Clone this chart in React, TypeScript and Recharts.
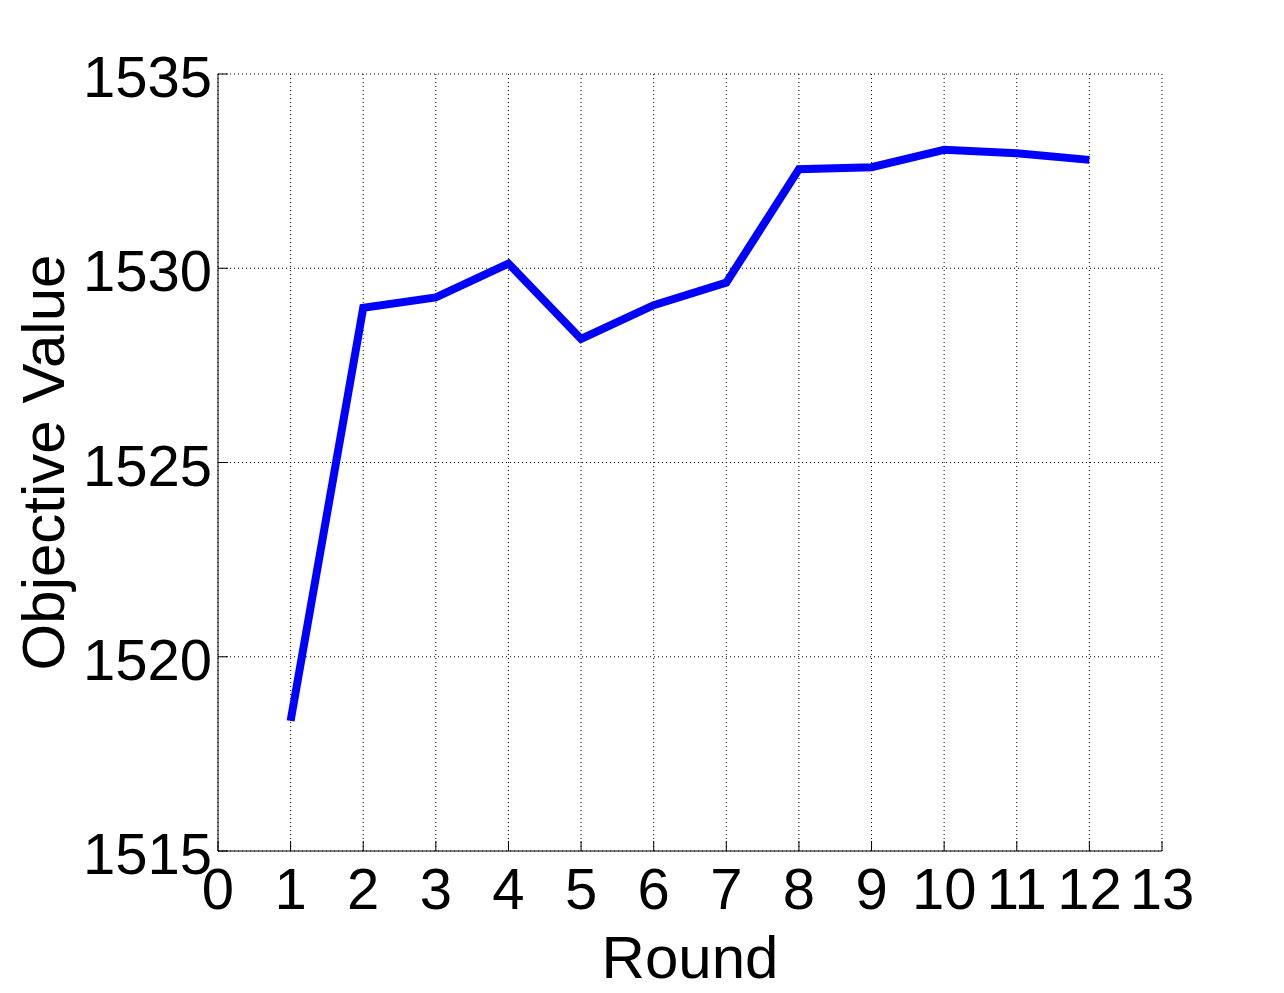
import React from 'react';
import { LineChart, Line, XAxis, YAxis, CartesianGrid } from 'recharts';

const rounds = [1, 2, 3, 4, 5, 6, 7, 8, 9, 10, 11, 12];
const objectiveValues = [1518.35, 1528.98, 1529.25, 1530.12, 1528.18, 1529.05, 1529.63, 1532.55, 1532.6, 1533.05, 1532.96, 1532.79];
const xTicks = [0, 1, 2, 3, 4, 5, 6, 7, 8, 9, 10, 11, 12, 13];
const yTicks = [1515, 1520, 1525, 1530, 1535];

const data = rounds.map((r, i) => ({ round: r, value: objectiveValues[i] }));

const FONT = '"Liberation Sans", Arial, Helvetica, sans-serif';
const FS = 58;
const LABEL_FS = 60;
const X_MARGIN = 15;
const Y_MARGIN = 6;
const TICK_LEN = 10;

const XTick = (props: any) => {
  const { x, y, payload } = props;
  const axisY = y - X_MARGIN;
  return (
    <g>
      <line x1={x} y1={axisY} x2={x} y2={axisY - TICK_LEN} stroke="#000" strokeWidth={1} />
      <text x={x} y={axisY} dy={58} textAnchor="middle" fontFamily={FONT} fontSize={FS} fill="#000">
        {payload.value}
      </text>
    </g>
  );
};

const YTick = (props: any) => {
  const { x, y, payload } = props;
  const axisX = x + Y_MARGIN;
  return (
    <g>
      <line x1={axisX} y1={y} x2={axisX + TICK_LEN} y2={y} stroke="#000" strokeWidth={1} />
      <text x={x} y={y} dy={23} textAnchor="end" fontFamily={FONT} fontSize={FS} fill="#000">
        {payload.value}
      </text>
    </g>
  );
};

const XLabel = (props: any) => {
  const { viewBox } = props;
  return (
    <text x={viewBox.x + viewBox.width / 2} y={viewBox.y + 127} textAnchor="middle" fontFamily={FONT} fontSize={LABEL_FS} fill="#000">
      Round
    </text>
  );
};

const YLabel = (props: any) => {
  const { viewBox } = props;
  const cx = viewBox.x + 24;
  const cy = viewBox.y + viewBox.height / 2;
  return (
    <text x={cx} y={cy} dy={22} transform={`rotate(-90, ${cx}, ${cy})`} textAnchor="middle" fontFamily={FONT} fontSize={LABEL_FS} fill="#000">
      Objective Value
    </text>
  );
};

export default function App() {
  return (
    <div style={{ position: 'absolute', left: 0, top: 0, width: 1284, height: 993, background: '#fff' }}>
      <LineChart width={1284} height={993} data={data} margin={{ top: 74, right: 122, bottom: 0, left: 18 }}>
        <CartesianGrid stroke="#000" strokeDasharray="1 3" strokeWidth={1} horizontal vertical />
        <XAxis
          dataKey="round"
          type="number"
          domain={[0, 13]}
          ticks={xTicks}
          interval={0}
          height={142}
          tickSize={0}
          tickMargin={X_MARGIN}
          tickLine={false}
          tick={<XTick />}
          axisLine={{ stroke: '#000', strokeWidth: 1 }}
          label={<XLabel />}
        />
        <XAxis
          xAxisId="top"
          orientation="top"
          type="number"
          domain={[0, 13]}
          ticks={xTicks}
          interval={0}
          height={0}
          mirror
          tick={false}
          tickSize={TICK_LEN}
          tickLine={{ stroke: '#000' }}
          axisLine={{ stroke: '#000', strokeWidth: 1 }}
        />
        <YAxis
          type="number"
          domain={[1515, 1535]}
          ticks={yTicks}
          interval={0}
          width={200}
          tickSize={0}
          tickMargin={Y_MARGIN}
          tickLine={false}
          tick={<YTick />}
          axisLine={{ stroke: '#000', strokeWidth: 1 }}
          label={<YLabel />}
        />
        <YAxis
          yAxisId="right"
          orientation="right"
          type="number"
          domain={[1515, 1535]}
          ticks={yTicks}
          interval={0}
          width={0}
          mirror
          tick={false}
          tickSize={TICK_LEN}
          tickLine={{ stroke: '#000' }}
          axisLine={{ stroke: '#000', strokeWidth: 1 }}
        />
        <Line
          type="linear"
          dataKey="value"
          stroke="#0000ff"
          strokeWidth={8}
          dot={false}
          activeDot={false}
          isAnimationActive={false}
        />
      </LineChart>
    </div>
  );
}
